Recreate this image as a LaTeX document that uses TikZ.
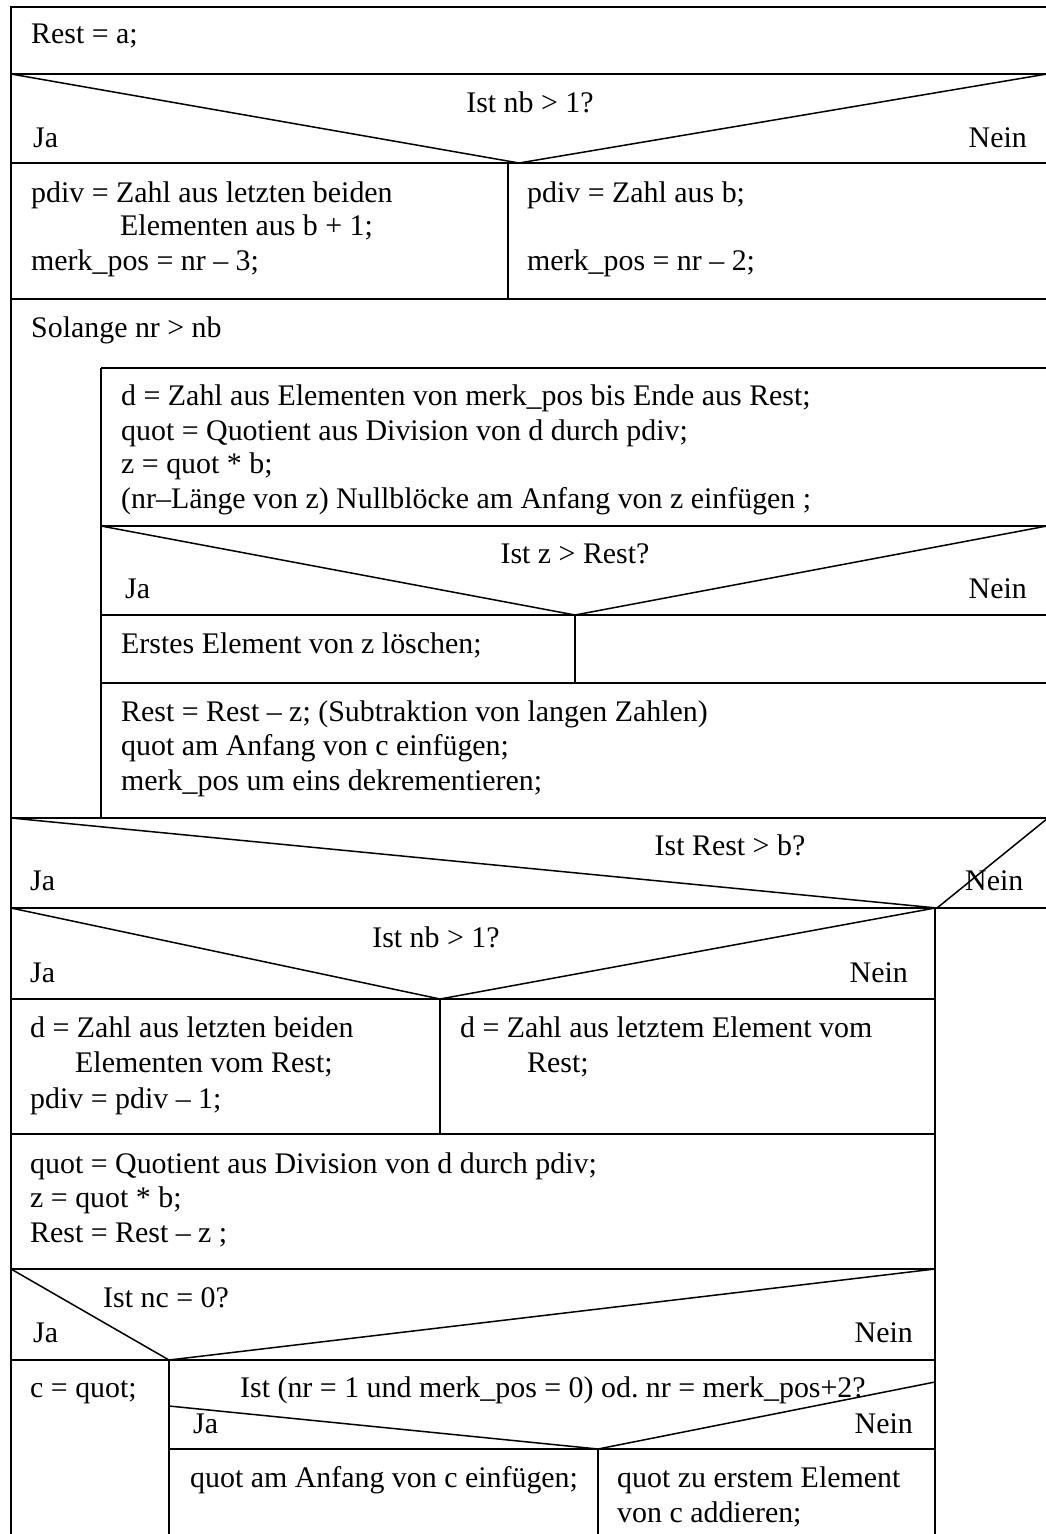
\documentclass[tikz,border=0pt]{standalone}
\usepackage{fontspec}
\setmainfont{Liberation Serif}
\begin{document}
\frenchspacing
\begin{tikzpicture}[x=1pt,y=-1pt,
  txt/.style={anchor=base west, inner sep=0pt, font=\fontsize{29.9}{34}\selectfont},
  txtc/.style={anchor=base, inner sep=0pt, font=\fontsize{29.9}{34}\selectfont},
  txte/.style={anchor=base east, inner sep=0pt, font=\fontsize{29.9}{34}\selectfont},
  hl/.style={line width=2pt},
  dl/.style={line width=1.5pt},
  vl/.style={line width=1.3pt}]
\useasboundingbox (0,0) rectangle (1046,1534);
\clip (0,0) rectangle (1046,1534);
% frame
\draw[hl] (11,1540) -- (11,7) -- (1050,7);
% row 1
\node[txt] (t1) at (31,43) {Rest = a;};
\draw[hl] (11,74) -- (1050,74);
% decision 1
\draw[dl] (11,74) -- (519,163) -- (1047,74);
\node[txtc] (d1) at (530,112) {Ist nb > 1?};
\node[txt] (d1ja) at (33,147) {Ja};
\node[txte] (d1nein) at (1027,147) {Nein};
\draw[hl] (11,163) -- (1050,163);
\draw[vl] (508,163) -- (508,299);
\node[txt] (a1) at (31,202) {pdiv = Zahl aus letzten beiden};
\node[txt] (a2) at (120,235) {Elementen aus b + 1;};
\node[txt] (a3) at (31,270) {merk\_pos = nr – 3;};
\node[txt] (b1) at (527,202) {pdiv = Zahl aus b;};
\node[txt] (b2) at (527,270) {merk\_pos = nr – 2;};
\draw[hl] (11,299) -- (1050,299);
% loop
\node[txt] (loop) at (31,337) {Solange nr > nb};
\draw[vl] (101,368) -- (101,818);
\draw[hl] (101,368) -- (1050,368);
\node[txt] (l1) at (121,405) {d = Zahl aus Elementen von merk\_pos bis Ende aus Rest;};
\node[txt] (l2) at (121,440) {quot = Quotient aus Division von d durch pdiv;};
\node[txt] (l3) at (121,473) {z = quot * b;};
\node[txt] (l4) at (121,508) {(nr–Länge von z) Nullblöcke am Anfang von z einfügen ;};
\draw[hl] (101,526) -- (1050,526);
\draw[dl] (101,526) -- (575,615) -- (1047,526);
\node[txtc] (d2) at (575,563) {Ist z > Rest?};
\node[txt] (d2ja) at (125,598) {Ja};
\node[txte] (d2nein) at (1027,598) {Nein};
\draw[hl] (101,615) -- (1050,615);
\draw[vl] (575,615) -- (575,683);
\node[txt] (e1) at (121,653) {Erstes Element von z löschen;};
\draw[hl] (101,683) -- (1050,683);
\node[txt] (m1) at (121,721) {Rest = Rest – z; (Subtraktion von langen Zahlen)};
\node[txt] (m2) at (121,755) {quot am Anfang von c einfügen;};
\node[txt] (m3) at (121,790) {merk\_pos um eins dekrementieren;};
\draw[hl] (11,818) -- (1050,818);
% decision 3
\draw[dl] (11,818) -- (937,908) -- (1048,818);
\node[txtc] (d3) at (730,855) {Ist Rest > b?};
\node[txt] (d3ja) at (30,890) {Ja};
\node[txt] (d3nein) at (965,890) {Nein};
\draw[hl] (11,908) -- (1050,908);
% decision 4
\draw[dl] (11,908) -- (440,999) -- (935,908);
\node[txtc] (d4) at (436,947) {Ist nb > 1?};
\node[txt] (d4ja) at (30,982) {Ja};
\node[txte] (d4nein) at (908,982) {Nein};
\draw[vl] (935,908) -- (935,1540);
\draw[hl] (11,999) -- (935,999);
\draw[vl] (440,999) -- (440,1134);
\node[txt] (p1) at (30,1037) {d = Zahl aus letzten beiden};
\node[txt] (p2) at (75,1072) {Elementen vom Rest;};
\node[txt] (p3) at (30,1108) {pdiv = pdiv – 1;};
\node[txt] (q1) at (460,1037) {d = Zahl aus letztem Element vom};
\node[txt] (q2) at (527,1072) {Rest;};
\draw[hl] (11,1134) -- (935,1134);
\node[txt] (r1) at (30,1173) {quot = Quotient aus Division von d durch pdiv;};
\node[txt] (r2) at (30,1207) {z = quot * b;};
\node[txt] (r3) at (30,1242) {Rest = Rest – z ;};
\draw[hl] (11,1269) -- (935,1269);
% decision 5
\draw[dl] (11,1269) -- (169,1360) -- (935,1269);
\node[txt] (d5) at (103,1307) {Ist nc = 0?};
\node[txt] (d5ja) at (33,1342) {Ja};
\node[txte] (d5nein) at (913,1342) {Nein};
\draw[hl] (11,1360) -- (935,1360);
\draw[vl] (169,1360) -- (169,1540);
\node[txt] (c1) at (30,1397) {c = quot;};
% decision 6
\node[txt] (d6) at (240,1397) {Ist (nr = 1 und merk\_pos = 0) od. nr = merk\_pos+2?};
\draw[dl] (169,1406) -- (598,1449) -- (935,1382);
\node[txt] (d6ja) at (193,1433) {Ja};
\node[txte] (d6nein) at (913,1433) {Nein};
\draw[hl] (169,1449) -- (935,1449);
\draw[vl] (598,1449) -- (598,1540);
\node[txt] (s1) at (190,1487) {quot am Anfang von c einfügen;};
\node[txt] (s2) at (617,1487) {quot zu erstem Element};
\node[txt] (s3) at (617,1522) {von c addieren;};
\end{tikzpicture}
\end{document}
